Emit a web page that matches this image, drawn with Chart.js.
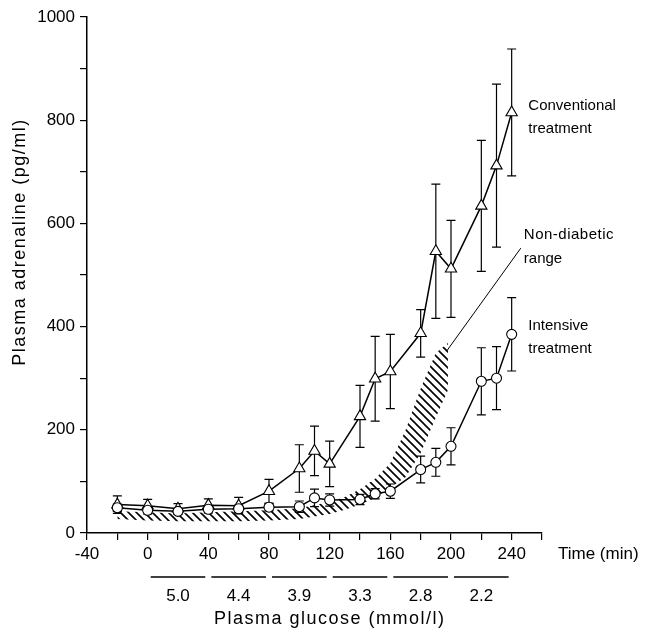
<!DOCTYPE html>
<html>
<head>
<meta charset="utf-8">
<title>Plasma adrenaline</title>
<script src="https://cdn.jsdelivr.net/npm/chart.js@4.4.1/dist/chart.umd.min.js"></script>
<style>
    body { margin: 0; background: #fff; }
    #chart { width: 645px; height: 633px; }
</style>
</head>
<body>
<div id="chart">
    <canvas id="myChart" width="645" height="633"></canvas>
</div>
<script>
    // sample times (min) and values (pg/ml), mean and SEM
    const times = [-20, 0, 20, 40, 60, 80, 100, 110, 120, 140, 150, 160, 180, 190, 200, 220, 230, 240];
    const conventional = [55, 53, 47, 54, 53, 81, 125, 159, 134, 226, 299, 313, 387, 546, 512, 634, 712, 815];
    const conventionalSem = [17, 12, 10, 12, 16, 23, 46, 48, 44, 60, 82, 72, 46, 130, 94, 127, 158, 123];
    const intensive = [49, 44, 42, 46, 47, 50, 51, 68, 64, 65, 76, 81, 123, 137, 168, 294, 300, 385];
    const intensiveSem = [7, 7, 6, 7, 7, 7, 11, 17, 12, 10, 10, 14, 26, 27, 36, 65, 61, 71];

    // non-diabetic range (hatched band)
    const rangeTimes = [-20, 0, 20, 40, 60, 80, 100, 120, 130, 140, 150, 160, 170, 180, 190, 198];
    const rangeLow = [27, 24, 23, 23, 23, 24, 27, 37, 45, 55, 68, 88, 108, 155, 224, 277];
    const rangeHigh = [42, 40, 38, 40, 42, 44, 48, 60, 70, 85, 105, 135, 199, 280, 349, 368];

    // leader line from band to its label
    const leaderTimes = [197, 246];
    const leaderValues = [352, 552];

    // glucose steps under the time axis
    const glucoseLevels = ['5.0', '4.4', '3.9', '3.3', '2.8', '2.2'];
    const glucoseStarts = [0, 40, 80, 120, 160, 200];

    const FONT = '"Liberation Sans", Arial, Helvetica, sans-serif';

    function pairs(xs, ys) {
        return xs.map((x, i) => ({ x: x, y: ys[i] }));
    }

    function hatch() {
        const s = 8;
        const c = document.createElement('canvas');
        c.width = s; c.height = s;
        const g = c.getContext('2d');
        g.strokeStyle = '#000';
        g.lineWidth = 1.6;
        g.beginPath();
        g.moveTo(0, 0); g.lineTo(s, s);
        g.moveTo(-1, s - 1); g.lineTo(1, s + 1);
        g.moveTo(s - 1, -1); g.lineTo(s + 1, 1);
        g.stroke();
        return document.getElementById('myChart').getContext('2d').createPattern(c, 'repeat');
    }

    const errorBars = {
        id: 'errorBars',
        beforeDatasetDraw(chart, args) {
            if (args.index !== 0) return;
            const ctx = chart.ctx;
            const xs = chart.scales.x, ys = chart.scales.y;
            const sets = [[conventional, conventionalSem], [intensive, intensiveSem]];
            ctx.save();
            ctx.strokeStyle = '#000';
            ctx.lineWidth = 1.2;
            sets.forEach(([vals, sem]) => {
                times.forEach((t, i) => {
                    const x = xs.getPixelForValue(t);
                    const top = ys.getPixelForValue(vals[i] + sem[i]);
                    const bot = ys.getPixelForValue(vals[i] - sem[i]);
                    ctx.beginPath();
                    ctx.moveTo(x, top); ctx.lineTo(x, bot);
                    ctx.moveTo(x - 4.5, top); ctx.lineTo(x + 4.5, top);
                    ctx.moveTo(x - 4.5, bot); ctx.lineTo(x + 4.5, bot);
                    ctx.stroke();
                });
            });
            ctx.restore();
        }
    };

    const extras = {
        id: 'extras',
        afterDraw(chart) {
            const ctx = chart.ctx;
            const xs = chart.scales.x, ys = chart.scales.y;
            const area = chart.chartArea;
            ctx.save();
            ctx.fillStyle = '#000';
            ctx.strokeStyle = '#000';

            // curve labels
            ctx.font = '15px ' + FONT;
            ctx.textAlign = 'left';
            ctx.textBaseline = 'middle';
            const notes = [
                ['Conventional', 251, 828], ['treatment', 251, 783],
                ['Non-diabetic', 248, 577], ['range', 248, 532],
                ['Intensive', 251, 401], ['treatment', 251, 357]
            ];
            notes.forEach(([txt, t, v]) => {
                ctx.letterSpacing = txt === 'Non-diabetic' ? '0.5px' : '0px';
                ctx.fillText(txt, xs.getPixelForValue(t), ys.getPixelForValue(v));
            });
            ctx.letterSpacing = '0px';

            // time axis title
            ctx.font = '17px ' + FONT;
            ctx.fillText('Time (min)', area.right + 16, area.bottom + 21);

            // glucose steps
            ctx.lineWidth = 1.3;
            ctx.textAlign = 'center';
            glucoseStarts.forEach((t, i) => {
                const x0 = xs.getPixelForValue(t + 2);
                const x1 = xs.getPixelForValue(t + 38);
                ctx.beginPath();
                ctx.moveTo(x0, area.bottom + 44);
                ctx.lineTo(x1, area.bottom + 44);
                ctx.stroke();
                ctx.fillText(glucoseLevels[i], (x0 + x1) / 2, area.bottom + 63);
            });
            ctx.font = '18px ' + FONT;
            ctx.letterSpacing = '1.5px';
            ctx.fillText('Plasma glucose (mmol/l)', xs.getPixelForValue(120), area.bottom + 86);

            // y title
            ctx.translate(20, 242);
            ctx.rotate(-Math.PI / 2);
            ctx.fillText('Plasma adrenaline (pg/ml)', 0, 0);
            ctx.restore();
        }
    };

    const ctx = document.getElementById('myChart').getContext('2d');
    const myChart = new Chart(ctx, {
        type: 'line',
        data: {
            datasets: [{
                label: 'Conventional treatment',
                data: pairs(times, conventional),
                borderColor: '#000',
                borderWidth: 1.5,
                pointStyle: 'triangle',
                pointRadius: 6.5,
                pointBackgroundColor: '#fff',
                pointBorderColor: '#000',
                pointBorderWidth: 1.1,
                order: 2
            }, {
                label: 'Intensive treatment',
                data: pairs(times, intensive),
                borderColor: '#000',
                borderWidth: 1.5,
                pointStyle: 'circle',
                pointRadius: 5,
                pointBackgroundColor: '#fff',
                pointBorderColor: '#000',
                pointBorderWidth: 1.1,
                order: 1
            }, {
                label: 'range low',
                data: pairs(rangeTimes, rangeLow),
                borderWidth: 0,
                pointRadius: 0,
                fill: false,
                order: 6
            }, {
                label: 'Non-diabetic range',
                data: pairs(rangeTimes, rangeHigh),
                borderWidth: 0,
                pointRadius: 0,
                fill: '-1',
                backgroundColor: hatch(),
                order: 5
            }, {
                label: 'leader',
                data: pairs(leaderTimes, leaderValues),
                borderColor: '#000',
                borderWidth: 1,
                pointRadius: 0,
                order: 3
            }]
        },
        options: {
            responsive: false,
            animation: false,
            devicePixelRatio: 1,
            layout: { padding: { top: 17, right: 103, left: 0, bottom: 0 } },
            plugins: { legend: { display: false }, tooltip: { enabled: false } },
            scales: {
                x: {
                    type: 'linear',
                    min: -40,
                    max: 260,
                    afterFit(scale) { scale.height = 100; },
                    border: { display: true, color: '#000', width: 1.5 },
                    grid: { drawOnChartArea: false, drawTicks: true, tickLength: 7, color: '#000', lineWidth: 1.2 },
                    ticks: {
                        stepSize: 20,
                        autoSkip: false,
                        maxRotation: 0,
                        color: '#000',
                        padding: 4,
                        font: { family: FONT, size: 17 },
                        callback: v => (v % 40 === 0 && v < 260) ? String(v) : ''
                    }
                },
                y: {
                    min: 0,
                    max: 1000,
                    afterFit(scale) { scale.width = 87; },
                    border: { display: true, color: '#000', width: 1.5 },
                    grid: { drawOnChartArea: false, drawTicks: true, tickLength: 7, color: '#000', lineWidth: 1.2 },
                    ticks: {
                        stepSize: 100,
                        autoSkip: false,
                        color: '#000',
                        padding: 5,
                        font: { family: FONT, size: 17 },
                        callback: v => (v % 200 === 0) ? String(v) : ''
                    }
                }
            }
        },
        plugins: [errorBars, extras]
    });
</script>
</body>
</html>
